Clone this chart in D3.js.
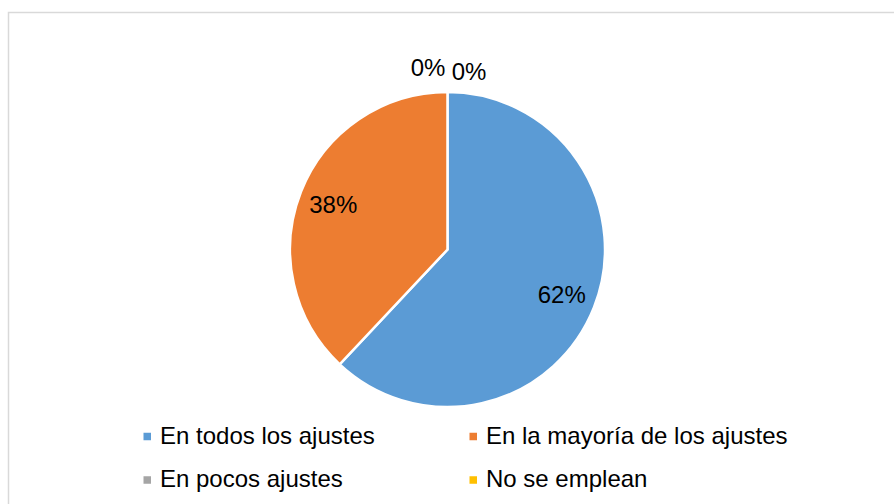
<!DOCTYPE html>
<html>
<head>
<meta charset="utf-8">
<script src="https://cdn.jsdelivr.net/npm/d3@7"></script>
<style>
  html, body { margin: 0; padding: 0; background: #fff; }
  svg { display: block; }
  text { font-family: "Liberation Sans", Arial, sans-serif; fill: #000; }
</style>
</head>
<body>
<svg id="chart" width="894" height="504"></svg>
<script>
// Data
const categories = ["En todos los ajustes", "En la mayoría de los ajustes", "En pocos ajustes", "No se emplean"];
const values = [62, 38, 0, 0];
const colors = ["#5B9BD5", "#ED7D31", "#A5A5A5", "#FFC000"];

const W = 894, H = 504;
const svg = d3.select("#chart");

// Chart frame
svg.append("rect")
  .attr("x", 8.5).attr("y", 12.5)
  .attr("width", W + 20).attr("height", H + 20)
  .attr("fill", "none").attr("stroke", "#d9d9d9").attr("stroke-width", 1.5);

const cx = 447.5, cy = 249.5, r = 157.5;
const total = d3.sum(values);

const pie = d3.pie().sort(null).value(d => d.value);
const rows = categories.map((c, i) => ({ name: c, value: values[i], color: colors[i] }));
const arcs = pie(rows);

const arc = d3.arc().innerRadius(0).outerRadius(r);
const labelArc = d3.arc().innerRadius(r * 0.78).outerRadius(r * 0.78);

const g = svg.append("g").attr("transform", `translate(${cx},${cy})`);

g.selectAll("path.slice")
  .data(arcs.filter(d => d.value > 0))
  .join("path")
  .attr("class", "slice")
  .attr("d", arc)
  .attr("fill", d => d.data.color)
  .attr("stroke", "#fff")
  .attr("stroke-width", 2.5)
  .attr("stroke-linejoin", "miter");

const fmt = v => Math.round(v / total * 100) + "%";
const fontSize = 24;

// Labels inside non-empty slices
g.selectAll("text.inside")
  .data(arcs.filter(d => d.value > 0))
  .join("text")
  .attr("class", "inside")
  .attr("x", d => labelArc.centroid(d)[0])
  .attr("y", d => labelArc.centroid(d)[1])
  .attr("dy", "0.36em")
  .attr("text-anchor", "middle")
  .attr("font-size", fontSize)
  .text(d => fmt(d.value));

// Labels for empty slices, placed just outside the top of the pie
const zeros = arcs.filter(d => d.value === 0);
const outerArc = d3.arc().innerRadius(r + 22).outerRadius(r + 22);
g.selectAll("text.outside")
  .data(zeros)
  .join("text")
  .attr("class", "outside")
  .attr("x", (d, i) => outerArc.centroid(d)[0] + (i === 0 ? -19.5 : 21.5))
  .attr("y", (d, i) => outerArc.centroid(d)[1] + (i === 0 ? -3 : 1))
  .attr("dy", "0.36em")
  .attr("text-anchor", "middle")
  .attr("font-size", fontSize)
  .text(d => fmt(d.value));

// Legend: two columns, two rows
const colX = d3.scaleOrdinal().domain([0, 1]).range([143.5, 469.5]);
const rowY = d3.scaleOrdinal().domain([0, 1]).range([435, 478.5]);

const leg = svg.selectAll("g.legend")
  .data(rows)
  .join("g")
  .attr("class", "legend")
  .attr("transform", (d, i) => `translate(${colX(i % 2)},${rowY(Math.floor(i / 2))})`);

leg.append("rect")
  .attr("x", 0).attr("y", -2.25)
  .attr("width", 7.5).attr("height", 7.5)
  .attr("fill", d => d.color);

leg.append("text")
  .attr("x", 16.5)
  .attr("y", 0)
  .attr("dy", "0.36em")
  .attr("font-size", fontSize)
  .text(d => d.name);
</script>
</body>
</html>
